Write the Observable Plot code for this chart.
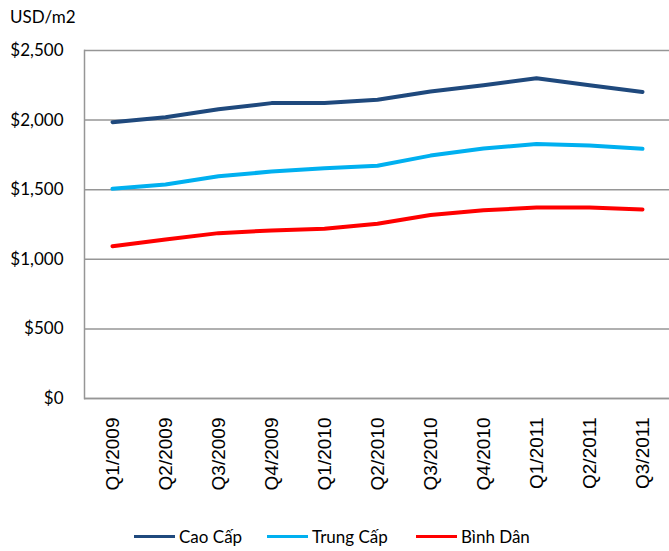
<!DOCTYPE html>
<html><head><meta charset="utf-8">
<script src="https://cdn.jsdelivr.net/npm/d3@7"></script>
<script src="https://cdn.jsdelivr.net/npm/@observablehq/plot@0.6"></script>
<style>
body{margin:0;background:#fff;}
#wrap{position:relative;width:669px;height:551px;}
#ytitle{position:absolute;left:10px;top:6px;font:17px Lato,"Open Sans",sans-serif;color:#000;}
#legend{position:absolute;left:0;top:526px;width:669px;height:22px;font:17px Lato,"Open Sans",sans-serif;color:#000;}
.li{position:absolute;top:0;display:flex;align-items:center;}
.sw{display:inline-block;width:41px;height:3px;margin-right:4px;}
g[aria-label="x-axis tick label"]{font-family:"Liberation Sans",Arial,sans-serif !important;font-weight:normal;}
</style></head>
<body><div id="wrap"><div id="ytitle">USD/m2</div><div id="chart"></div><div id="legend"></div></div>
<script>
const quarters = ["Q1/2009","Q2/2009","Q3/2009","Q4/2009","Q1/2010","Q2/2010","Q3/2010","Q4/2010","Q1/2011","Q2/2011","Q3/2011"];
const seriesNames = ["Cao Cấp","Trung Cấp","Bình Dân"];
const caoCap = [1985,2020,2078,2122,2122,2146,2205,2250,2300,2250,2202];
const trungCap = [1507,1537,1597,1630,1654,1672,1745,1796,1828,1818,1794];
const binhDan = [1094,1142,1188,1207,1219,1255,1318,1352,1372,1372,1358];
const colors = ["#1F497D","#00B0F0","#FF0000"];
const yTicks = [0,500,1000,1500,2000,2500];

const rows = [];
[caoCap,trungCap,binhDan].forEach((vals,si)=>vals.forEach((v,i)=>rows.push({quarter:quarters[i],value:v,series:seriesNames[si]})));

const chart = Plot.plot({
  width: 669, height: 510,
  marginLeft: 84, marginRight: 0, marginTop: 50, marginBottom: 112,
  style: {fontFamily: "Lato, 'Open Sans', sans-serif", background: "#fff"},
  x: {type: "point", domain: quarters, padding: 0.5, label: null},
  y: {domain: [0,2500], ticks: yTicks, label: null},
  color: {domain: seriesNames, range: colors},
  marks: [
    Plot.gridY(yTicks, {stroke: "#969696", strokeOpacity: 1, strokeWidth: 1.5}),
    Plot.ruleY([0], {stroke: "#969696", strokeWidth: 1.5}),
    Plot.frame({anchor: "left", stroke: "#969696", strokeWidth: 1.5}),
    Plot.axisY(yTicks, {tickSize: 0, tickPadding: 21, fontSize: 17, tickFormat: d3.format("$,"), label: null, fontFamily: "Lato, 'Open Sans', sans-serif"}),
    Plot.axisX({tickSize: 0, tickRotate: -90, tickPadding: 19, fontSize: 19, fontFamily: "'Liberation Sans', Arial, sans-serif", label: null}),
    Plot.line(rows, {x: "quarter", y: "value", z: "series", stroke: "series", strokeWidth: 4, strokeLinecap: "round", strokeLinejoin: "round"})
  ]
});
document.getElementById("chart").appendChild(chart);

const legendPos = [134, 267, 416];
const lg = document.getElementById("legend");
seriesNames.forEach((n,i)=>{
  const d = document.createElement("div");
  d.className = "li";
  d.style.left = legendPos[i] + "px";
  d.innerHTML = `<span class="sw" style="background:${colors[i]}"></span><span>${n}</span>`;
  lg.appendChild(d);
});
</script></body></html>
